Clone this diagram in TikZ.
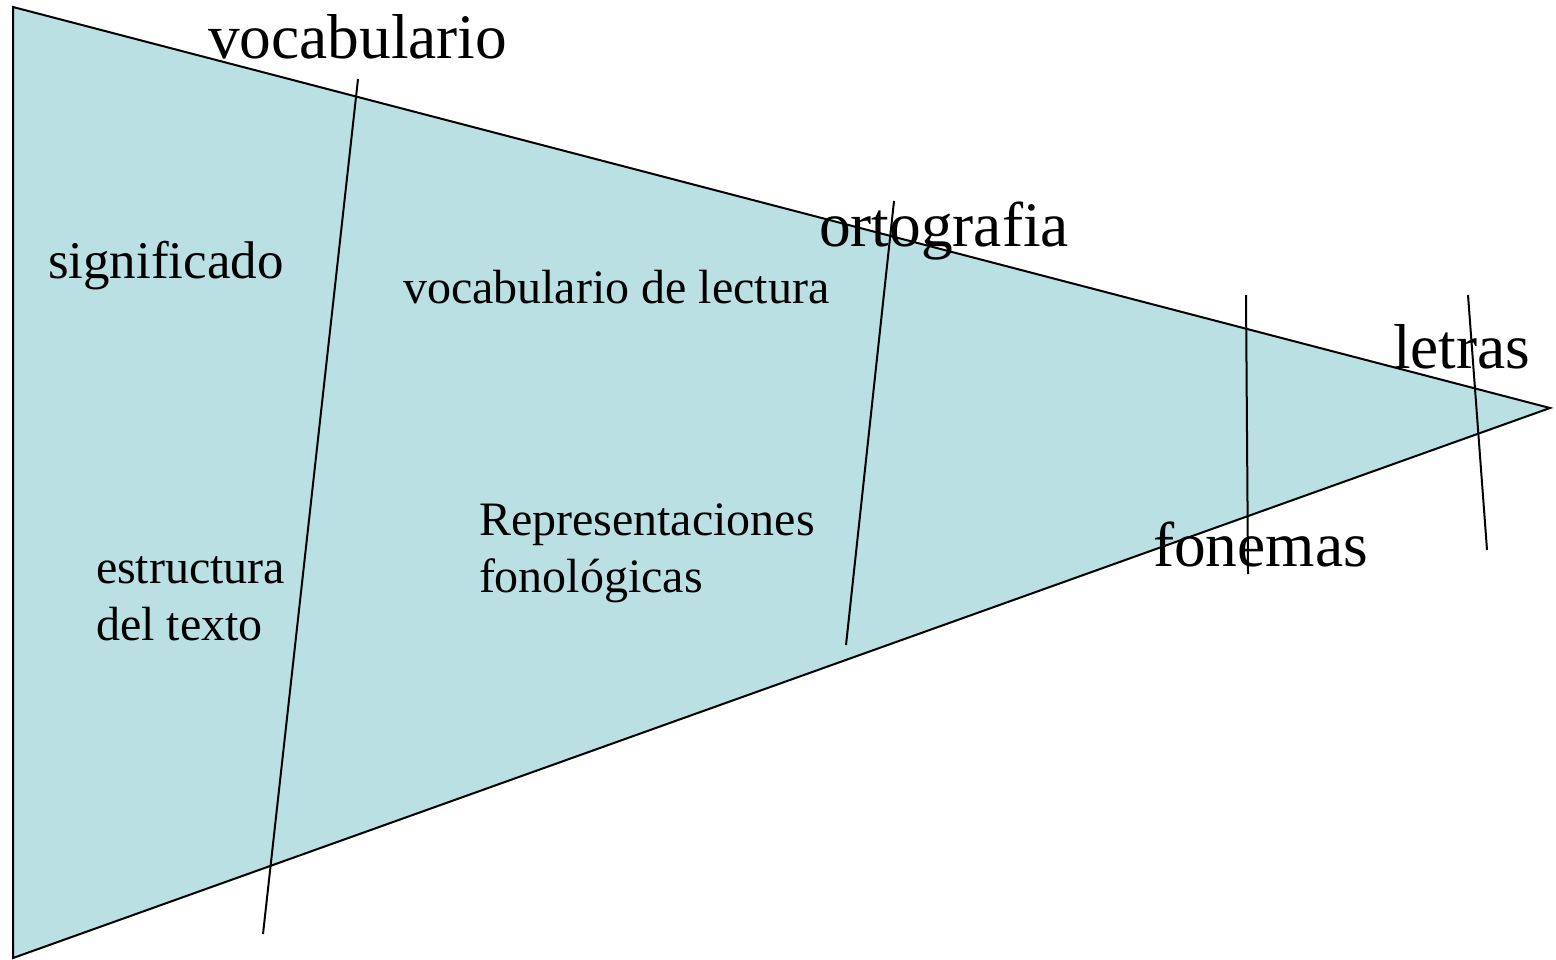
\documentclass[tikz,border=0pt]{standalone}
\usepackage{fontspec}
\setmainfont{Liberation Serif}
\definecolor{wedgeblue}{RGB}{186,224,227}

\begin{document}
\begin{tikzpicture}[x=0.5pt, y=-0.5pt, line width=1pt,
	big label/.style={anchor=base west,inner sep=0pt,font=\fontsize{31.7}{38}\selectfont},
	small label/.style={anchor=base west,inner sep=0pt,align=left,font=\fontsize{24}{28.5}\selectfont}]
	\useasboundingbox (0,0) rectangle (1556,959);

	% the wedge
	\coordinate (top) at (13,7);
	\coordinate (bottom) at (13,958);
	\coordinate (tip) at (1550,408);
	\filldraw[fill=wedgeblue] (top) -- (tip) -- (bottom) -- cycle;

	% dividing strokes
	\coordinate (v1) at (358,79);   \coordinate (v2) at (263,934);
	\coordinate (o1) at (894,201);  \coordinate (o2) at (846,645);
	\coordinate (f1) at (1246,295); \coordinate (f2) at (1248,574);
	\coordinate (l1) at (1468,295); \coordinate (l2) at (1487,550);
	\draw (v1) -- (v2);
	\draw (o1) -- (o2);
	\draw (f1) -- (f2);
	\draw (l1) -- (l2);

	\node[big label] (vocab) at (207,58) {vocabulario};
	\node[big label] (orto) at (818,246) {ortografia};
	\node[big label] (letras) at (1392,368) {letras};
	\node[big label] (fonemas) at (1152,566) {fonemas};

	% two-line labels sit on the baseline of their last line
	\node[small label, font=\fontsize{26.5}{31}\selectfont] (signif) at (47,278) {significado};
	\node[small label] (lectura) at (402,303) {vocabulario de lectura};
	\node[small label] (repr) at (478,592) {Representaciones\\fonológicas};
	\node[small label] (estruct) at (95,640) {estructura\\del texto};
\end{tikzpicture}
\end{document}
